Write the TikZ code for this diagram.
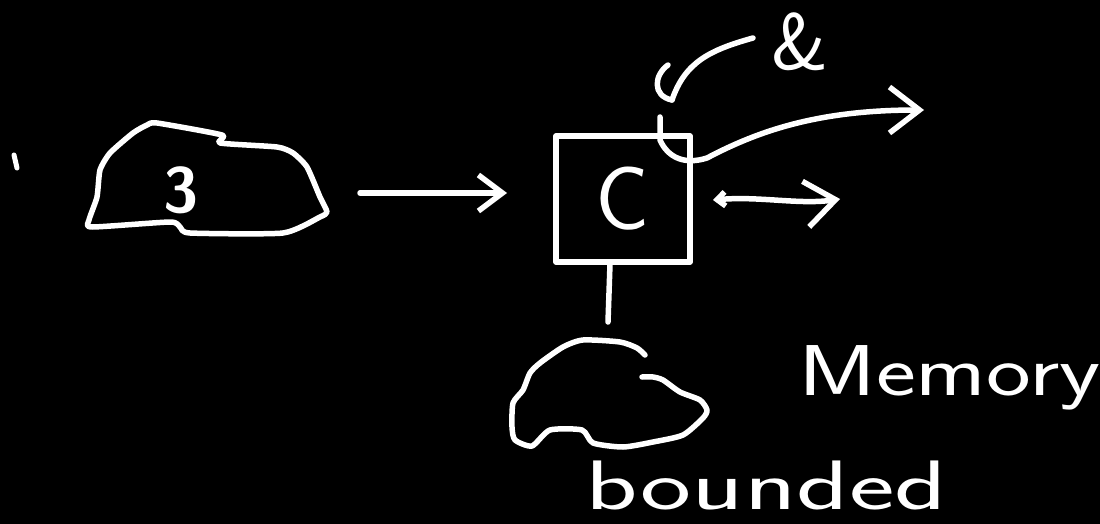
\documentclass[tikz,border=0pt]{standalone}
\usetikzlibrary{arrows.meta}
\begin{document}
\begin{tikzpicture}[x=1pt,y=-1pt,
  ink/.style={draw=white,line width=5.5pt,line cap=round,line join=round},
  txt/.style={text=white,inner sep=0pt},
  bigtip/.tip={Straight Barb[length=24pt,width=36pt]},
  hugetip/.tip={Straight Barb[length=30pt,width=46pt]},
  smalltip/.tip={Straight Barb[length=8pt,width=14pt]}]
\fill[black] (0,0) rectangle (1100,524);
\useasboundingbox (0,0) rectangle (1100,524);
% small mark
\coordinate (m1) at (14,155);
\coordinate (m2) at (17,168);
\draw[ink,line width=5pt] (m1) -- (m2);
% left blob
\draw[ink] plot[smooth cycle,tension=0.35] coordinates {(147,125) (157,123) (222,135) (220,143) (277,147) (293,153) (307,167) (320,197) (327,212) (320,217) (283,233) (190,233) (180,227) (170,222) (92,227) (89,220) (97,197) (100,170) (110,153) (133,133)};
\node[txt,font=\sffamily\bfseries\fontsize{64}{64}\selectfont] (three) at (181,190) {3};
% box C
\node[ink,text=white,font=\sffamily\fontsize{90}{90}\selectfont,minimum width=134pt,minimum height=126pt,inner sep=0pt] (C) at (623,199) {C};
% arrow from blob to C
\coordinate (a1s) at (360,193);
\coordinate (a1e) at (507,193);
\draw[ink,-bigtip] (a1s) -- (a1e);
% line down to memory blob
\coordinate (d1) at (610,264);
\coordinate (d2) at (608,322);
\draw[ink] (d1) -- (d2);
% bottom blob
\draw[ink] plot[smooth,tension=0.4] coordinates {(645,355) (637,348) (620,342) (583,340) (563,347) (540,363) (530,373) (523,390) (513,403) (512,427) (515,440) (532,446) (550,430) (582,430) (593,443) (623,447) (653,442) (683,435) (703,418) (707,410) (700,400) (680,392) (663,380) (653,377) (642,377)};
% hook and curve at top
\coordinate (h1) at (668,65);
\coordinate (h2) at (672,100);
\coordinate (t1) at (753,38);
\draw[ink] (h1) .. controls (654,75) and (652,96) .. (h2);
\draw[ink] (h2) .. controls (685,62) and (710,50) .. (t1);
\node[txt,font=\sffamily\fontsize{80}{80}\selectfont] (amp) at (800,42) {\&};
% curve through top of box to right with arrow
\coordinate (c1) at (660,117);
\coordinate (c2) at (924,110);
\draw[ink,-hugetip] (c1) -- (660,140) .. controls (668,158) and (685,165) .. (707,158) .. controls (760,130) and (820,110) .. (c2);
% double arrow right of box
\coordinate (r1) at (713,200);
\coordinate (r2) at (840,199);
\draw[ink,smalltip-hugetip] (r1) .. controls (760,196) and (800,205) .. (r2);
% texts
\node[txt,anchor=base west,xscale=1.32,font=\sffamily\fontsize{72}{72}\selectfont] (mem) at (798,395) {Memory};
\node[txt,anchor=base west,xscale=1.55,font=\sffamily\fontsize{70}{70}\selectfont] (bnd) at (585,509) {bounded};
\end{tikzpicture}
\end{document}
